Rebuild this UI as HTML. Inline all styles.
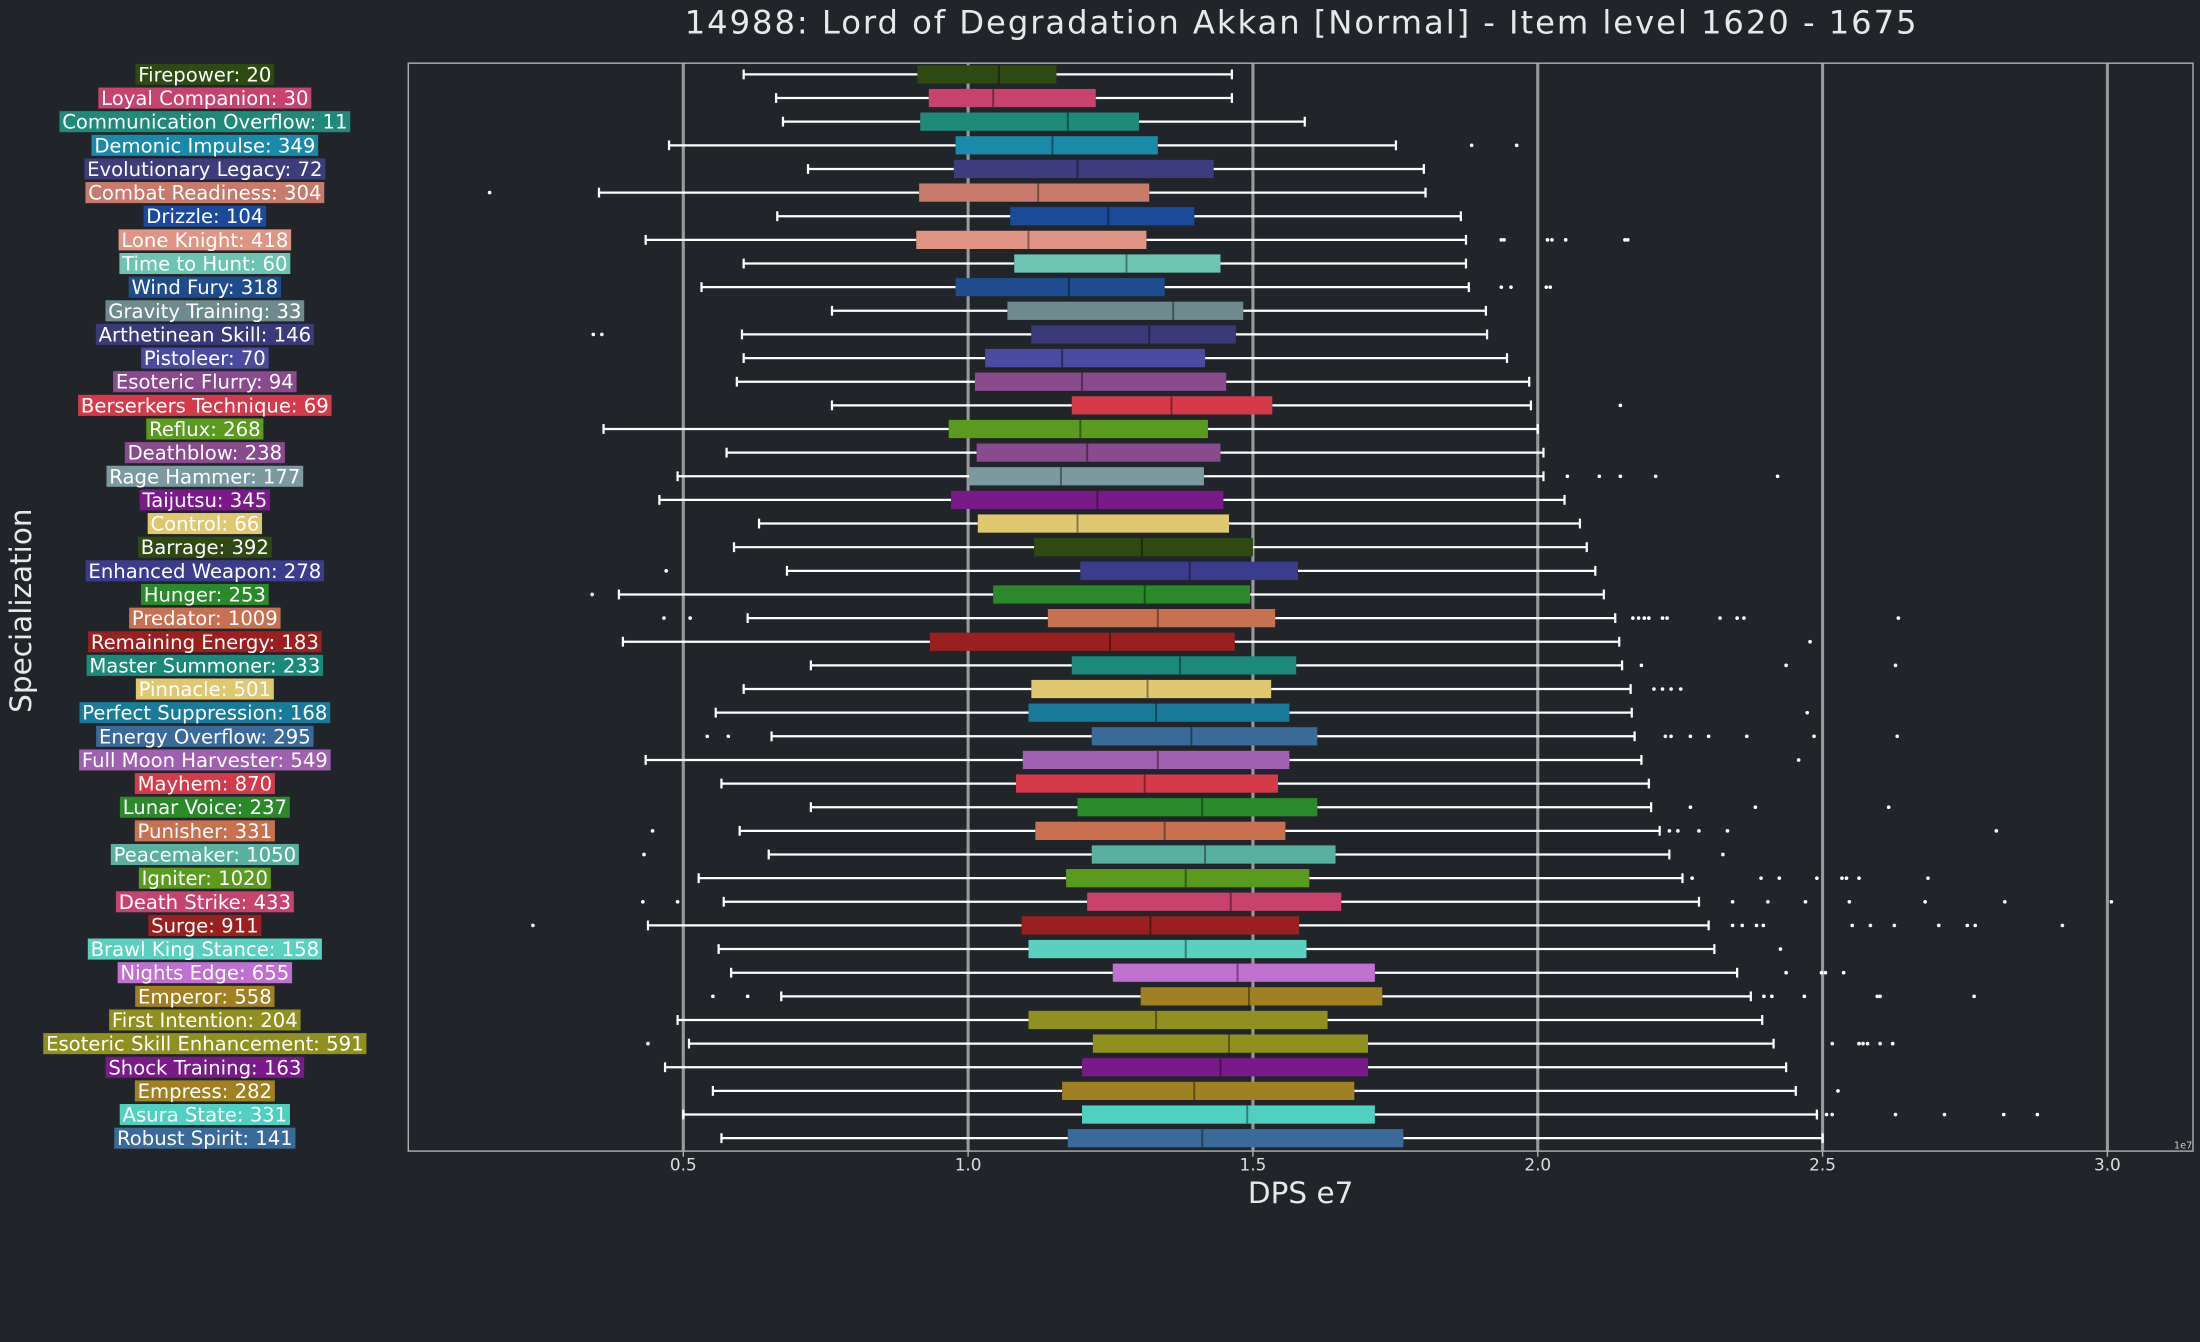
<!DOCTYPE html>
<html><head><meta charset="utf-8">
<style>
html,body{margin:0;padding:0;background:#212428;}
svg{display:block;font-family:"DejaVu Sans","Liberation Sans",sans-serif;}
</style></head>
<body>
<svg id="chart" width="2200" height="1342" viewBox="0 0 1568 956" preserveAspectRatio="none" xmlns="http://www.w3.org/2000/svg">
<rect x="0" y="0" width="1568" height="956" fill="#212428"/>
<text x="927" y="24" text-anchor="middle" font-size="23" textLength="878" fill="#e8e8e8">14988: Lord of Degradation Akkan [Normal] - Item level 1620 - 1675</text>
<text x="22" y="435" text-anchor="middle" font-size="21" fill="#e8e8e8" transform="rotate(-90 22 435)">Specialization</text>
<text x="927" y="857" text-anchor="middle" font-size="21" fill="#e8e8e8">DPS e7</text>
<text x="1556" y="818" text-anchor="middle" font-size="7" fill="#cccccc">1e7</text>
<g id="grid"></g>
<g id="marks"></g>
<g id="labels"></g>
<rect x="291" y="45" width="1272" height="775" fill="none" stroke="#b0b0b0" stroke-width="1"/>
</svg>
<script>
const names=["Firepower","Loyal Companion","Communication Overflow","Demonic Impulse","Evolutionary Legacy","Combat Readiness","Drizzle","Lone Knight","Time to Hunt","Wind Fury","Gravity Training","Arthetinean Skill","Pistoleer","Esoteric Flurry","Berserkers Technique","Reflux","Deathblow","Rage Hammer","Taijutsu","Control","Barrage","Enhanced Weapon","Hunger","Predator","Remaining Energy","Master Summoner","Pinnacle","Perfect Suppression","Energy Overflow","Full Moon Harvester","Mayhem","Lunar Voice","Punisher","Peacemaker","Igniter","Death Strike","Surge","Brawl King Stance","Nights Edge","Emperor","First Intention","Esoteric Skill Enhancement","Shock Training","Empress","Asura State","Robust Spirit"];
const counts=[20,30,11,349,72,304,104,418,60,318,33,146,70,94,69,268,238,177,345,66,392,278,253,1009,183,233,501,168,295,549,870,237,331,1050,1020,433,911,158,655,558,204,591,163,282,331,141];
const colors=["#2e4a12","#c8426e","#1f8a7a","#1a8aaa","#3c3c7e","#c87a6c","#1c4a9a","#e09484","#6ec4b2","#1f4c8e","#6e8a8e","#3a3a7a","#4a4aa0","#8a4a8e","#d43a4a","#5a9a1e","#8a4a8e","#7a9aa0","#7a1a8a","#e0c870","#2e4a12","#3c3c8e","#2a8a2a","#c87050","#9a2020","#1a8a7a","#e0c870","#1a7a9a","#3a6a9a","#a060b0","#d43a4a","#2a8a2a","#c87050","#5ab0a0","#5a9a1e","#c8426e","#9a2020","#5ad0c0","#c070d0","#a08020","#909020","#909020","#7a1a8a","#a08020","#50d0c0","#3a6a9a"];
const whiskLow=[0.606,0.663,0.675,0.475,0.719,0.352,0.665,0.434,0.606,0.532,0.761,0.603,0.606,0.594,0.761,0.360,0.576,0.490,0.458,0.633,0.589,0.682,0.387,0.613,0.394,0.724,0.606,0.557,0.655,0.434,0.567,0.724,0.599,0.650,0.527,0.571,0.438,0.562,0.584,0.672,0.490,0.510,0.468,0.552,0.500,0.567];
const q1=[0.911,0.931,0.916,0.978,0.975,0.914,1.074,0.909,1.081,0.978,1.069,1.111,1.030,1.012,1.182,0.966,1.015,1.002,0.970,1.017,1.116,1.197,1.044,1.140,0.933,1.182,1.111,1.106,1.217,1.096,1.084,1.192,1.118,1.217,1.172,1.209,1.094,1.106,1.254,1.303,1.106,1.219,1.200,1.165,1.200,1.175];
const medians=[1.054,1.044,1.175,1.148,1.192,1.123,1.246,1.106,1.278,1.177,1.360,1.318,1.165,1.200,1.357,1.197,1.209,1.163,1.227,1.192,1.305,1.389,1.310,1.333,1.249,1.372,1.315,1.330,1.392,1.333,1.310,1.411,1.345,1.416,1.382,1.461,1.320,1.382,1.473,1.493,1.330,1.458,1.443,1.397,1.490,1.411];
const q3=[1.155,1.224,1.300,1.333,1.431,1.318,1.397,1.313,1.443,1.345,1.483,1.470,1.416,1.453,1.534,1.421,1.443,1.414,1.448,1.458,1.500,1.579,1.495,1.539,1.468,1.576,1.532,1.564,1.613,1.564,1.544,1.613,1.557,1.645,1.599,1.655,1.581,1.594,1.714,1.727,1.631,1.702,1.702,1.678,1.714,1.764];
const whiskHigh=[1.463,1.463,1.591,1.751,1.800,1.803,1.865,1.874,1.874,1.879,1.909,1.911,1.946,1.985,1.988,2.000,2.010,2.010,2.047,2.074,2.086,2.101,2.116,2.136,2.143,2.148,2.163,2.165,2.170,2.182,2.195,2.199,2.214,2.231,2.254,2.283,2.300,2.310,2.350,2.374,2.394,2.414,2.436,2.453,2.490,2.500];
const outliers=[[],[],[],[1.884,1.963],[],[0.160],[],[1.936,1.941,2.017,2.025,2.049,2.153,2.158],[],[1.936,1.953,2.015,2.022],[],[0.342,0.357],[],[],[2.145],[],[],[2.052,2.108,2.145,2.207,2.421],[],[],[],[0.470],[0.340],[0.466,0.512,2.167,2.177,2.187,2.195,2.219,2.227,2.320,2.350,2.362,2.633],[2.478],[2.182,2.436,2.628],[2.204,2.219,2.234,2.251],[2.473],[0.542,0.579,2.224,2.234,2.268,2.300,2.367,2.485,2.631],[2.458],[],[2.268,2.382,2.616],[0.446,2.231,2.246,2.283,2.333,2.805],[0.431,2.325],[2.271,2.392,2.424,2.490,2.534,2.542,2.564,2.685],[0.429,0.490,2.342,2.404,2.470,2.547,2.680,2.820,3.007],[0.236,2.342,2.359,2.384,2.396,2.552,2.584,2.626,2.704,2.754,2.768,2.921],[2.426],[2.436,2.498,2.505,2.537],[0.552,0.613,2.397,2.411,2.468,2.596,2.601,2.766],[],[0.438,2.517,2.564,2.571,2.579,2.601,2.623],[],[2.527],[2.507,2.517,2.628,2.714,2.818,2.877],[]];
const xTicks=[0.5,1.0,1.5,2.0,2.5,3.0];
const xTickLabels=["0.5","1.0","1.5","2.0","2.5","3.0"];

const NS="http://www.w3.org/2000/svg";
function xs(v){return 487+(v-0.5)*406;}
function ys(i){return 53+i*16.84;}
function mk(tag,attrs,parent){const e=document.createElementNS(NS,tag);for(const k in attrs)e.setAttribute(k,attrs[k]);parent.appendChild(e);return e;}
function shade(hex,f){const n=parseInt(hex.slice(1),16);let r=(n>>16)&255,g=(n>>8)&255,b=n&255;r=Math.round(r*f);g=Math.round(g*f);b=Math.round(b*f);return "rgb("+r+","+g+","+b+")";}
const grid=document.getElementById('grid'),marks=document.getElementById('marks'),labels=document.getElementById('labels');
xTicks.forEach((t,k)=>{
  const l=mk('line',{x1:xs(t),x2:xs(t),y1:45,y2:820,stroke:'#9a9a9a','stroke-width':2.2},grid);
  
  
  const tk=mk('line',{x1:xs(t),x2:xs(t),y1:820,y2:824,stroke:'#b0b0b0','stroke-width':1},grid);
  
  
  const tx=mk('text',{x:xs(t),y:834,'text-anchor':'middle','font-size':12,fill:'#dddddd'},grid);
  tx.textContent=xTickLabels[k];
  
  
});
names.forEach((n,i)=>{
  const y=ys(i),c=colors[i];
  const g=mk('g',{},marks);
  
  
  mk('line',{x1:xs(whiskLow[i]),x2:xs(q1[i]),y1:y,y2:y,stroke:'#ffffff','stroke-width':1.6},g);
  mk('line',{x1:xs(q3[i]),x2:xs(whiskHigh[i]),y1:y,y2:y,stroke:'#ffffff','stroke-width':1.6},g);
  mk('line',{x1:xs(whiskLow[i]),x2:xs(whiskLow[i]),y1:y-3.5,y2:y+3.5,stroke:'#ffffff','stroke-width':1.6},g);
  mk('line',{x1:xs(whiskHigh[i]),x2:xs(whiskHigh[i]),y1:y-3.5,y2:y+3.5,stroke:'#ffffff','stroke-width':1.6},g);
  mk('rect',{x:xs(q1[i]),y:y-6.5,width:xs(q3[i])-xs(q1[i]),height:13,fill:c},g);
  mk('line',{x1:xs(medians[i]),x2:xs(medians[i]),y1:y-6.5,y2:y+6.5,stroke:shade(c,0.6),'stroke-width':1.4},g);
  outliers[i].forEach(o=>{
    const d=mk('circle',{cx:xs(o),cy:y,r:1.3,fill:'#ffffff'},g);
    
    
  });
  const lbl=n+': '+counts[i];
  const lg=mk('g',{},labels);
  
  
  const r=mk('rect',{x:0,y:y-7.5,width:0,height:15,fill:c},lg);
  const t=mk('text',{x:146,y:y+5,'text-anchor':'middle','font-size':14,fill:'#ffffff'},lg);
  t.textContent=lbl;
  let w=t.getComputedTextLength();
  if(!w) w=lbl.length*7.8;
  w+=4;
  r.setAttribute('x',146-w/2);
  r.setAttribute('width',w);
});
</script>
</body></html>
